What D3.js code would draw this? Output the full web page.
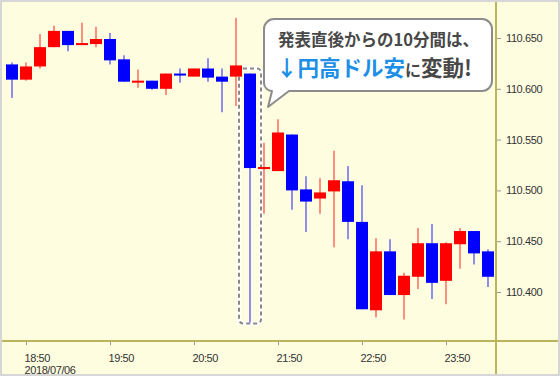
<!DOCTYPE html>
<html>
<head>
<meta charset="utf-8">
<script src="https://cdn.jsdelivr.net/npm/d3@7"></script>
<style>
  body { margin: 0; background: #fff; }
  svg { display: block; }
  .tick text { font-family: "Liberation Sans", Arial, sans-serif; font-size: 11px; fill: #333; letter-spacing: -0.4px; }
</style>
</head>
<body>
<div id="chart"></div>
<script>
// 10-minute candles, 2018/07/06 18:40 - 00:20 (USD/JPY)
const times = ["18:40","18:50","19:00","19:10","19:20","19:30","19:40","19:50","20:00","20:10",
  "20:20","20:30","20:40","20:50","21:00","21:10","21:20","21:30","21:40","21:50",
  "22:00","22:10","22:20","22:30","22:40","22:50","23:00","23:10","23:20","23:30",
  "23:40","23:50","00:00","00:10","00:20"];
const open  = [110.624,110.609,110.622,110.641,110.657,110.643,110.644,110.649,110.629,110.606,
  110.608,110.600,110.615,110.612,110.620,110.612,110.612,110.615,110.521,110.519,
  110.555,110.501,110.492,110.499,110.509,110.469,110.382,110.440,110.397,110.415,
  110.448,110.411,110.447,110.460,110.440];
const high  = [110.626,110.626,110.654,110.662,110.657,110.665,110.661,110.655,110.633,110.619,
  110.608,110.615,110.620,110.620,110.630,110.620,110.670,110.615,110.547,110.570,
  110.555,110.514,110.512,110.539,110.524,110.505,110.453,110.452,110.419,110.463,
  110.467,110.449,110.463,110.460,110.442];
const low   = [110.591,110.608,110.620,110.641,110.637,110.643,110.641,110.624,110.607,110.601,
  110.599,110.594,110.606,110.612,110.607,110.577,110.583,110.370,110.477,110.519,
  110.481,110.459,110.477,110.444,110.452,110.383,110.375,110.397,110.373,110.403,
  110.393,110.388,110.423,110.427,110.405];
const close = [110.609,110.622,110.641,110.657,110.643,110.645,110.649,110.628,110.607,110.608,
  110.600,110.615,110.613,110.620,110.611,110.607,110.623,110.522,110.523,110.557,
  110.500,110.489,110.498,110.510,110.469,110.383,110.440,110.397,110.416,110.448,
  110.409,110.448,110.460,110.438,110.415];

const yTicks = [110.400, 110.450, 110.500, 110.550, 110.600, 110.650];
const xTicks = ["18:50","19:50","20:50","21:50","22:50","23:50"];
const xTickLabels = ["18:50","19:50","20:50","21:50","22:50","23:50"];
const dateLabel = "2018/07/06";
const highlight = "21:30";

const W = 560, H = 376;
const svg = d3.select("#chart").append("svg").attr("width", W).attr("height", H);

// frame + background
svg.append("rect").attr("width", W).attr("height", H).attr("fill", "#d6d6d6");
svg.append("rect").attr("x", 2).attr("y", 2).attr("width", 556).attr("height", 372).attr("fill", "#fffde0");

const x = d3.scalePoint().domain(times).range([12, 488]);
const y = d3.scaleLinear().domain([110.400, 110.650]).range([292, 38]);
const bodyW = 12;

const candles = times.map((t, i) => ({ t, o: open[i], h: high[i], l: low[i], c: close[i] }));
const col = d => d.c >= d.o ? "#ff0000" : "#0000ff";

// highlight box round the release candle
const hb = candles.find(d => d.t === highlight);
const hx = x(hb.t);
const box = svg.append("g");
[["#ffffff", 4, null], ["#888888", 2, "4,3"]].forEach(([s, w, dash]) => {
  box.append("rect")
    .attr("x", hx - 11).attr("y", y(hb.o) - 5)
    .attr("width", 22).attr("height", y(hb.l) - y(hb.o) + 6)
    .attr("rx", 4)
    .attr("fill", "none").attr("stroke", s).attr("stroke-width", w)
    .attr("stroke-dasharray", dash);
});

// candles
const g = svg.append("g");
g.selectAll("line.wick").data(candles).enter().append("line")
  .attr("x1", d => x(d.t)).attr("x2", d => x(d.t))
  .attr("y1", d => y(d.h)).attr("y2", d => y(d.l))
  .attr("stroke", col).attr("stroke-opacity", 0.55).attr("stroke-width", 1.6);
g.selectAll("rect.body").data(candles).enter().append("rect")
  .attr("x", d => x(d.t) - bodyW / 2)
  .attr("y", d => y(Math.max(d.o, d.c)))
  .attr("width", bodyW)
  .attr("height", d => Math.max(2, Math.abs(y(d.o) - y(d.c))))
  .attr("fill", col);

// axes
const axisCol = "#b9b55a";
svg.append("line").attr("x1", 2).attr("x2", 558).attr("y1", 341).attr("y2", 341)
  .attr("stroke", axisCol).attr("stroke-width", 2);
svg.append("line").attr("x1", 496).attr("x2", 496).attr("y1", 2).attr("y2", 374)
  .attr("stroke", axisCol).attr("stroke-width", 2);

const yAxis = svg.append("g").attr("transform", "translate(497,0)")
  .call(d3.axisRight(y).tickValues(yTicks).tickFormat(d3.format(".3f")).tickSize(4).tickPadding(5));
yAxis.select(".domain").remove();
yAxis.selectAll(".tick line").attr("stroke", "#999");

const xAxis = svg.append("g").attr("transform", "translate(0,342)")
  .call(d3.axisBottom(x).tickValues(xTicks).tickFormat((d, i) => xTickLabels[i]).tickSize(3).tickPadding(9));
xAxis.select(".domain").remove();
xAxis.selectAll(".tick line").attr("stroke", "#999");
xAxis.selectAll(".tick text").attr("text-anchor", "start").attr("dx", -2);
xAxis.select(".tick text").append("tspan").attr("x", 0).attr("dx", -2).attr("dy", 12).text(dateLabel);

// callout bubble
const bx0 = 264, bx1 = 492, by0 = 19, by1 = 91, r = 10;
const bubble = d3.path();
bubble.moveTo(bx0 + r, by0);
bubble.lineTo(bx1 - r, by0);
bubble.arcTo(bx1, by0, bx1, by0 + r, r);
bubble.lineTo(bx1, by1 - r);
bubble.arcTo(bx1, by1, bx1 - r, by1, r);
bubble.lineTo(289, by1);
bubble.lineTo(268, 107);
bubble.lineTo(272, by1);
bubble.arcTo(bx0, by1, bx0, by1 - r, 8);
bubble.lineTo(bx0, by0 + r);
bubble.arcTo(bx0, by0, bx0 + r, by0, r);
bubble.closePath();
svg.append("path").attr("d", bubble.toString())
  .attr("fill", "#ffffff").attr("stroke", "#8c8c8c").attr("stroke-width", 2)
  .attr("stroke-linejoin", "round");

const jp = '"Noto Sans CJK JP", "Noto Sans", sans-serif';
svg.append("text").attr("x", 278).attr("y", 46)
  .attr("font-family", jp).attr("font-size", 16.5).attr("font-weight", "bold").attr("fill", "#484848")
  .text("発表直後からの10分間は、");
const t2 = svg.append("text").attr("x", 276).attr("y", 76)
  .attr("font-family", jp).attr("font-weight", "bold");
t2.append("tspan").attr("font-size", 21.5).attr("fill", "#1e8fe6").text("↓円高ドル安");
t2.append("tspan").attr("font-size", 16).attr("fill", "#484848").text("に");
t2.append("tspan").attr("font-size", 21.5).attr("fill", "#484848").text("変動!");
</script>
</body>
</html>
